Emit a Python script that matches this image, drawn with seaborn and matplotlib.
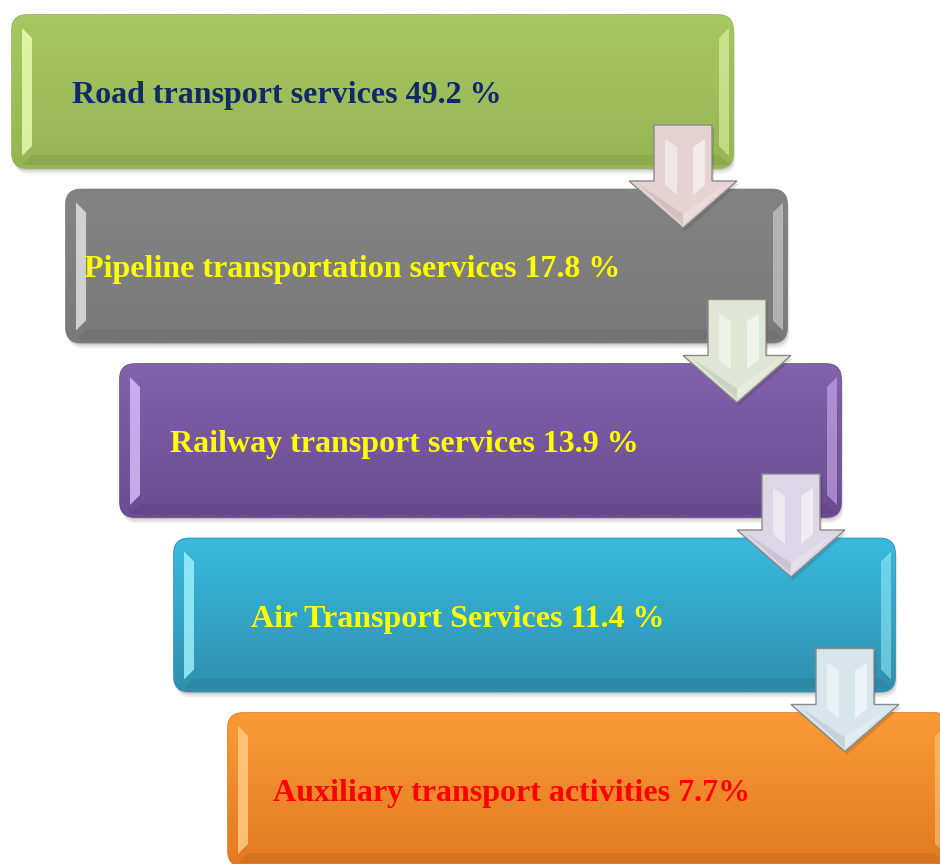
import numpy as np
import matplotlib
matplotlib.use("Agg")
import matplotlib.pyplot as plt
import seaborn as sns
from matplotlib.patches import FancyBboxPatch, Polygon
from matplotlib.colors import to_rgb

# ---- data ----
categories = ["Road transport services", "Pipeline transportation services",
              "Railway transport services", "Air Transport Services",
              "Auxiliary transport activities"]
shares = [49.2, 17.8, 13.9, 11.4, 7.7]
pct_sep = [" ", " ", " ", " ", ""]

# ---- styles ----
box_top = ["#a6c862", "#838383", "#8262ab", "#38bade", "#fa9a36"]
box_bot = ["#95b552", "#7a7a7a", "#6a4c92", "#2f90ae", "#e27a22"]
bevel_col = ["#eaffb4", "#e6e6e6", "#dcc0ff", "#a4f4ff", "#ffd08a"]
text_col = ["#0f2a66", "#ffff00", "#ffff00", "#ffff00", "#ff0000"]
arrow_col = ["#e6d2d2", "#dfe6d4", "#dcd6e6", "#d6e6ec"]

sns.set_theme(style="white")
plt.rcParams['font.family'] = ['Liberation Serif', 'DejaVu Serif']

W, H = 940, 864
fig = plt.figure(figsize=(W / 100, H / 100), dpi=100)
ax = fig.add_axes([0, 0, 1, 1])
ax.set_xlim(0, W)
ax.set_ylim(H, 0)
ax.axis("off")

box_x0, box_w, box_h, step_x, step_y, box_y0 = 12, 721, 153, 54, 174.5, 15
text_x = [72, 84, 170, 251, 273]


def grad_img(c1, c2, n=64):
    a = np.array(to_rgb(c1))
    b = np.array(to_rgb(c2))
    t = np.linspace(0, 1, n)[:, None]
    return (a * (1 - t) + b * t)[:, None, :]


for i, (cat, val) in enumerate(zip(categories, shares)):
    x0 = box_x0 + i * step_x
    y0 = box_y0 + i * step_y
    # shadow
    for k, al in [(6, 0.06), (4, 0.08), (2, 0.12)]:
        sh = FancyBboxPatch((x0 + k * 0.4, y0 + k), box_w, box_h,
                            boxstyle="round,pad=0,rounding_size=15",
                            fc="#000000", ec="none", alpha=al, zorder=1 + i * 3)
        ax.add_patch(sh)
    box = FancyBboxPatch((x0, y0), box_w, box_h,
                         boxstyle="round,pad=0,rounding_size=15",
                         fc=box_top[i], ec=box_bot[i], lw=1.2, zorder=2 + i * 3)
    ax.add_patch(box)
    im = ax.imshow(grad_img(box_top[i], box_bot[i]), extent=(x0, x0 + box_w, y0 + box_h, y0),
                   aspect="auto", zorder=2 + i * 3, interpolation="bilinear")
    im.set_clip_path(box)
    # bevels: left light strip, right light strip, bottom dark strip
    ins, bw = 10, 10
    left = Polygon([(x0 + ins, y0 + 13), (x0 + ins + bw, y0 + 13 + bw),
                    (x0 + ins + bw, y0 + box_h - 12 - bw), (x0 + ins, y0 + box_h - 12)],
                   closed=True, fc=bevel_col[i], ec="none", alpha=0.8, zorder=2.1 + i * 3)
    ax.add_patch(left)
    right = Polygon([(x0 + box_w - 4, y0 + 13), (x0 + box_w - 4 - bw, y0 + 13 + bw),
                     (x0 + box_w - 4 - bw, y0 + box_h - 12 - bw), (x0 + box_w - 4, y0 + box_h - 12)],
                    closed=True, fc=bevel_col[i], ec="none", alpha=0.5, zorder=2.1 + i * 3)
    ax.add_patch(right)
    bottom = Polygon([(x0 + ins, y0 + box_h - 3), (x0 + ins + bw, y0 + box_h - 3 - bw),
                      (x0 + box_w - 4 - bw, y0 + box_h - 3 - bw), (x0 + box_w - 4, y0 + box_h - 3)],
                     closed=True, fc="#000000", ec="none", alpha=0.06, zorder=2.1 + i * 3)
    ax.add_patch(bottom)
    ax.text(text_x[i], y0 + box_h / 2 + 4, f"{cat} {val}{pct_sep[i]}%",
            ha="left", va="center", fontsize=23, fontweight="bold",
            color=text_col[i], zorder=2.2 + i * 3)

# arrows between boxes (drawn on top of all boxes)
shaft_w, head_w = 58, 108
for i, col in enumerate(arrow_col):
    cx = 683 + i * step_x
    top = 125 + i * step_y
    hb = top + 56
    tip = top + 103
    pts = [(cx - shaft_w / 2, top), (cx + shaft_w / 2, top), (cx + shaft_w / 2, hb),
           (cx + head_w / 2, hb), (cx, tip), (cx - head_w / 2, hb), (cx - shaft_w / 2, hb)]
    z = 50 + i * 3
    ax.add_patch(Polygon([(x + 2, y + 3) for x, y in pts], closed=True, fc="#000000",
                         ec="none", alpha=0.12, zorder=z))
    ax.add_patch(Polygon(pts, closed=True, fc=col, ec="#8a8a8a", lw=1.0, zorder=z + 0.1))
    # inner bevel highlights
    ax.add_patch(Polygon([(cx - 18, top + 14), (cx - 6, top + 22), (cx - 6, hb + 14), (cx - 18, hb + 4)],
                         closed=True, fc="white", ec="none", alpha=0.45, zorder=z + 0.2))
    ax.add_patch(Polygon([(cx + 10, top + 22), (cx + 22, top + 14), (cx + 22, hb + 4), (cx + 10, hb + 14)],
                         closed=True, fc="white", ec="none", alpha=0.55, zorder=z + 0.2))
    ax.add_patch(Polygon([(cx - head_w / 2 + 8, hb + 2), (cx, tip - 14), (cx, tip - 3)],
                         closed=True, fc="#000000", ec="none", alpha=0.08, zorder=z + 0.2))
    ax.add_patch(Polygon([(cx + head_w / 2 - 8, hb + 2), (cx, tip - 14), (cx, tip - 3)],
                         closed=True, fc="white", ec="none", alpha=0.25, zorder=z + 0.2))

fig.savefig("out.png", dpi=100)
